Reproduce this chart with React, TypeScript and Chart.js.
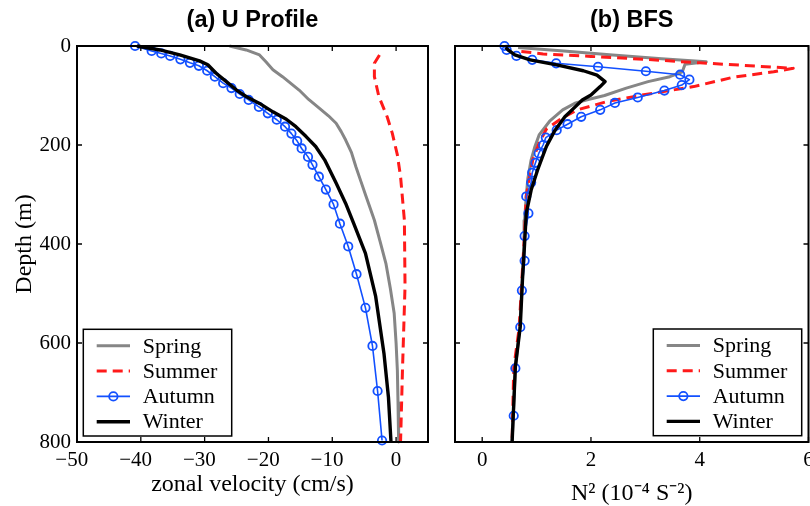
import React, { useEffect, useRef } from 'react';
import { Chart, registerables } from 'chart.js';

Chart.register(...registerables);

// ---------- data ----------
const seasonLabels = ['Spring', 'Summer', 'Autumn', 'Winter'];

// (a) U profile: depth (m) and zonal velocity (cm/s)
const uDepthSpring = [0, 8, 18, 32, 48, 62, 89, 108, 126, 141, 156, 173, 190, 215, 244, 274, 304, 330, 352, 395, 439, 490, 540, 600, 655, 720, 800];
const uSpring = [-26.1, -23.5, -21.4, -20.4, -19.3, -17.8, -15.2, -13.7, -12.0, -10.6, -9.4, -8.6, -7.9, -7.0, -6.3, -5.5, -4.7, -4.0, -3.4, -2.5, -1.6, -0.9, -0.3, 0.0, 0.2, 0.3, 0.4];

const uDepthSummer = [18, 35, 62, 102, 143, 176, 220, 264, 352, 486, 655, 800];
const uSummer = [-2.6, -3.4, -3.4, -2.7, -1.4, -0.6, 0.2, 0.7, 1.3, 1.4, 1.0, 0.7];

const uDepthAutumn = [0, 10, 15, 20, 27, 34, 40, 50, 62, 75, 85, 97, 109, 123, 136, 149, 163, 177, 192, 207, 224, 240, 264, 290, 320, 359, 405, 461, 529, 606, 697, 797];
const uAutumn = [-40.9, -38.3, -36.8, -35.4, -33.8, -32.3, -30.9, -29.6, -28.4, -27.1, -25.8, -24.5, -23.1, -21.5, -20.1, -18.7, -17.4, -16.4, -15.5, -14.8, -13.8, -13.1, -12.1, -11.0, -9.8, -8.8, -7.5, -6.2, -4.8, -3.7, -2.9, -2.2];

const uDepthWinter = [0, 8, 18, 30, 38, 55, 72, 89, 102, 116, 133, 148, 163, 183, 203, 230, 277, 318, 360, 419, 506, 621, 709, 800];
const uWinter = [-40.6, -37.0, -33.9, -30.8, -29.5, -28.2, -26.6, -25.0, -23.5, -21.4, -19.3, -17.2, -15.7, -14.1, -12.6, -11.2, -9.4, -7.9, -6.6, -4.8, -3.2, -1.9, -1.2, -0.8];

// (b) BFS: depth (m) and N^2 (1e-4 s^-2)
const nDepthSpring = [3, 10, 18, 26, 32, 37, 52, 62, 72, 85, 100, 108, 115, 129, 152, 179, 203, 230, 267, 304, 352, 400, 490, 570, 650, 800];
const nSpring = [0.66, 1.5, 2.4, 3.3, 4.12, 3.73, 3.68, 3.45, 3.05, 2.65, 2.25, 1.95, 1.72, 1.48, 1.24, 1.05, 0.97, 0.90, 0.84, 0.81, 0.78, 0.77, 0.73, 0.69, 0.61, 0.55];

const nDepthSummer = [11, 16, 21, 27, 34, 45, 52, 63, 82, 98, 112, 129, 147, 168, 195, 230, 264, 304, 378, 490, 570, 650, 800];
const nSummer = [0.72, 1.12, 2.0, 3.0, 4.0, 5.72, 5.36, 4.62, 3.89, 3.0, 2.3, 1.75, 1.45, 1.18, 1.05, 0.93, 0.87, 0.81, 0.78, 0.72, 0.68, 0.58, 0.55];

const nDepthAutumn = [0, 8, 20, 28, 35, 42, 51, 58, 68, 79, 90, 104, 115, 129, 143, 158, 170, 185, 200, 217, 236, 256, 276, 304, 338, 384, 434, 494, 568, 651, 747];
const nAutumn = [0.41, 0.45, 0.63, 0.92, 1.36, 2.13, 3.01, 3.64, 3.81, 3.67, 3.35, 2.86, 2.44, 2.17, 1.82, 1.57, 1.37, 1.17, 1.12, 1.04, 0.98, 0.92, 0.90, 0.81, 0.85, 0.78, 0.78, 0.73, 0.70, 0.61, 0.58];

const nDepthWinter = [3, 10, 18, 28, 38, 50, 59, 72, 82, 99, 109, 123, 143, 170, 203, 250, 291, 338, 399, 473, 567, 648, 800];
const nWinter = [0.43, 0.50, 0.60, 0.88, 1.37, 1.86, 2.11, 2.26, 2.17, 2.0, 1.84, 1.71, 1.52, 1.34, 1.18, 1.02, 0.90, 0.81, 0.78, 0.74, 0.70, 0.61, 0.55];

// ticks
const depthTicks = [0, 200, 400, 600, 800];
const depthTickLabels = ['0', '200', '400', '600', '800'];
const uTicks = [-50, -40, -30, -20, -10, 0];
const uTickLabels = ['\u221250', '\u221240', '\u221230', '\u221220', '\u221210', '0'];
const nTicks = [0, 2, 4, 6];
const nTickLabels = ['0', '2', '4', '6'];

// ---------- styles ----------
const styles = [
  { borderColor: '#868686', borderWidth: 3, borderDash: [] as number[], pointRadius: 0 },
  { borderColor: '#ff1a1a', borderWidth: 3, borderDash: [10, 6], pointRadius: 0 },
  { borderColor: '#1250ff', borderWidth: 1.6, borderDash: [] as number[], pointRadius: 4.2 },
  { borderColor: '#000000', borderWidth: 3.4, borderDash: [] as number[], pointRadius: 0 },
];

const zip = (xs: number[], ys: number[]) => xs.map((x, i) => ({ x, y: ys[i] }));

function makeDatasets(series: { depth: number[]; vals: number[] }[]) {
  return series.map((s, i) => ({
    label: seasonLabels[i],
    data: zip(s.vals, s.depth),
    showLine: true,
    borderColor: styles[i].borderColor,
    backgroundColor: styles[i].borderColor,
    borderWidth: styles[i].borderWidth,
    borderDash: styles[i].borderDash,
    borderJoinStyle: 'round',
    pointRadius: styles[i].pointRadius,
    pointBorderWidth: 1.8,
    pointBorderColor: styles[i].borderColor,
    pointBackgroundColor: 'rgba(0,0,0,0)',
    pointStyle: 'circle',
    tension: 0,
    clip: false as any,
    order: 3 - i,
  }));
}

// ---------- plugins ----------
const frameTicksPlugin = {
  id: 'frameTicks',
  afterDatasetsDraw(chart: any) {
    const { ctx, chartArea: a, scales } = chart;
    const x = scales.x;
    const y = scales.y;
    const len = 5;
    ctx.save();
    ctx.strokeStyle = '#000';
    ctx.setLineDash([]);
    ctx.lineWidth = 1.3;
    ctx.beginPath();
    x.ticks.forEach((t: any) => {
      const p = x.getPixelForValue(t.value);
      ctx.moveTo(p, a.bottom);
      ctx.lineTo(p, a.bottom - len);
      ctx.moveTo(p, a.top);
      ctx.lineTo(p, a.top + len);
    });
    y.ticks.forEach((t: any) => {
      const p = y.getPixelForValue(t.value);
      ctx.moveTo(a.left, p);
      ctx.lineTo(a.left + len, p);
      ctx.moveTo(a.right, p);
      ctx.lineTo(a.right - len, p);
    });
    ctx.stroke();
    ctx.lineWidth = 2;
    ctx.strokeRect(a.left, a.top, a.right - a.left, a.bottom - a.top);
    ctx.restore();
  },
};

const boxLegendPlugin = {
  id: 'boxLegend',
  afterDraw(chart: any, _args: any, opts: any) {
    const { ctx, chartArea: a } = chart;
    const w = 148.4;
    const h = 106.7;
    const left = opts.side === 'left' ? a.left + opts.dx : a.right - opts.dx - w;
    const top = a.bottom - opts.dy - h;
    ctx.save();
    ctx.fillStyle = '#fff';
    ctx.fillRect(left, top, w, h);
    ctx.strokeStyle = '#000';
    ctx.lineWidth = 1.5;
    ctx.setLineDash([]);
    ctx.strokeRect(left, top, w, h);
    const lx0 = left + 13.4;
    const lx1 = left + 46.7;
    const tx = left + 59.4;
    chart.data.datasets.forEach((ds: any, i: number) => {
      const yy = top + 16.5 + i * 25.3;
      ctx.strokeStyle = ds.borderColor;
      ctx.lineWidth = ds.borderWidth;
      ctx.setLineDash(ds.borderDash || []);
      ctx.beginPath();
      ctx.moveTo(lx0, yy);
      ctx.lineTo(lx1, yy);
      ctx.stroke();
      ctx.setLineDash([]);
      if (ds.pointRadius > 0) {
        ctx.beginPath();
        ctx.lineWidth = ds.pointBorderWidth;
        ctx.strokeStyle = ds.pointBorderColor;
        ctx.arc((lx0 + lx1) / 2, yy, ds.pointRadius, 0, Math.PI * 2);
        ctx.stroke();
      }
      ctx.fillStyle = '#000';
      ctx.font = '22px "Liberation Serif"';
      ctx.textBaseline = 'middle';
      ctx.textAlign = 'left';
      ctx.fillText(ds.label, tx, yy + 1);
    });
    ctx.restore();
  },
};

const serif = 'Liberation Serif';

const zeroPadding = (scale: any) => {
  scale.paddingLeft = 0;
  scale.paddingRight = 0;
  scale.paddingTop = 0;
  scale.paddingBottom = 0;
};

function makeConfig(p: {
  title: string;
  datasets: any[];
  xMin: number;
  xMax: number;
  xTicks: number[];
  xTickLabels: string[];
  xTitle: string;
  xTitleLH: number;
  xTitlePadBottom: number;
  showY: boolean;
  yWidth: number;
  padRight: number;
  legendSide: string;
  legendDx: number;
  legendDy: number;
}): any {
  return {
    type: 'scatter',
    data: { datasets: p.datasets },
    plugins: [frameTicksPlugin, boxLegendPlugin],
    options: {
      responsive: false,
      animation: false,
      events: [],
      layout: { padding: { left: 0, right: p.padRight, top: 0, bottom: 0 }, autoPadding: false },
      plugins: {
        legend: { display: false },
        tooltip: { enabled: false },
        title: {
          display: true,
          text: p.title,
          fullSize: false,
          color: '#000',
          font: { family: 'Liberation Sans', size: 23.5, weight: 'bold', lineHeight: 1.2 },
          padding: { top: 6.8, bottom: 11 },
        },
        boxLegend: { side: p.legendSide, dx: p.legendDx, dy: p.legendDy },
      },
      scales: {
        x: {
          type: 'linear',
          min: p.xMin,
          max: p.xMax,
          grid: { display: false, drawTicks: false },
          border: { display: false },
          afterBuildTicks: (scale: any) => {
            scale.ticks = p.xTicks.map((v) => ({ value: v }));
          },
          afterFit: (scale: any) => {
            scale.height = 64;
            zeroPadding(scale);
          },
          ticks: {
            autoSkip: false,
            maxRotation: 0,
            padding: 6,
            color: '#000',
            font: { family: serif, size: 21 },
            callback: (v: number) => {
              const i = p.xTicks.indexOf(v);
              const lab = i >= 0 ? p.xTickLabels[i] : '';
              return v < 0 ? lab + '  ' : lab;
            },
          },
          title: {
            display: true,
            text: p.xTitle,
            color: '#000',
            font: { family: serif, size: 24, lineHeight: p.xTitleLH },
            padding: { top: 0, bottom: p.xTitlePadBottom },
          },
        },
        y: {
          type: 'linear',
          reverse: true,
          min: 0,
          max: 800,
          grid: { display: false, drawTicks: false },
          border: { display: false },
          afterBuildTicks: (scale: any) => {
            scale.ticks = depthTicks.map((v) => ({ value: v }));
          },
          afterFit: (scale: any) => {
            scale.width = p.yWidth;
            zeroPadding(scale);
          },
          ticks: {
            display: p.showY,
            autoSkip: false,
            padding: 6,
            color: '#000',
            font: { family: serif, size: 21 },
            callback: (v: number) => {
              const i = depthTicks.indexOf(v);
              return i >= 0 ? depthTickLabels[i] : '';
            },
          },
          title: {
            display: p.showY,
            text: 'Depth (m)',
            color: '#000',
            font: { family: serif, size: 24, lineHeight: 1.2 },
            padding: { top: 10.6, bottom: 0 },
          },
        },
      },
    },
  };
}

export default function App() {
  const leftRef = useRef<HTMLCanvasElement>(null);
  const rightRef = useRef<HTMLCanvasElement>(null);

  useEffect(() => {
    const leftChart = new Chart(
      leftRef.current as HTMLCanvasElement,
      makeConfig({
        title: '(a) U Profile',
        datasets: makeDatasets([
          { depth: uDepthSpring, vals: uSpring },
          { depth: uDepthSummer, vals: uSummer },
          { depth: uDepthAutumn, vals: uAutumn },
          { depth: uDepthWinter, vals: uWinter },
        ]),
        xMin: -50,
        xMax: 5,
        xTicks: uTicks,
        xTickLabels: uTickLabels,
        xTitle: 'zonal velocity (cm/s)',
        xTitleLH: 1.2,
        xTitlePadBottom: 6.6,
        showY: true,
        yWidth: 77,
        padRight: 12,
        legendSide: 'left',
        legendDx: 6.3,
        legendDy: 6,
      })
    );
    const rightChart = new Chart(
      rightRef.current as HTMLCanvasElement,
      makeConfig({
        title: '(b) BFS',
        datasets: makeDatasets([
          { depth: nDepthSpring, vals: nSpring },
          { depth: nDepthSummer, vals: nSummer },
          { depth: nDepthAutumn, vals: nAutumn },
          { depth: nDepthWinter, vals: nWinter },
        ]),
        xMin: -0.5,
        xMax: 6,
        xTicks: nTicks,
        xTickLabels: nTickLabels,
        xTitle: 'N\u00B2 (10\u207B\u2074 S\u207B\u00B2)',
        xTitleLH: 1.0,
        xTitlePadBottom: 0,
        showY: false,
        yWidth: 15,
        padRight: 1.5,
        legendSide: 'right',
        legendDx: 6.8,
        legendDy: 6.3,
      })
    );
    return () => {
      leftChart.destroy();
      rightChart.destroy();
    };
  }, []);

  return (
    <div style={{ position: 'absolute', left: 0, top: 0, width: 810, height: 506, background: '#fff', overflow: 'hidden' }}>
      <canvas ref={leftRef} width={440} height={506} style={{ position: 'absolute', left: 0, top: 0 }} />
      <canvas ref={rightRef} width={370} height={506} style={{ position: 'absolute', left: 440, top: 0 }} />
    </div>
  );
}
